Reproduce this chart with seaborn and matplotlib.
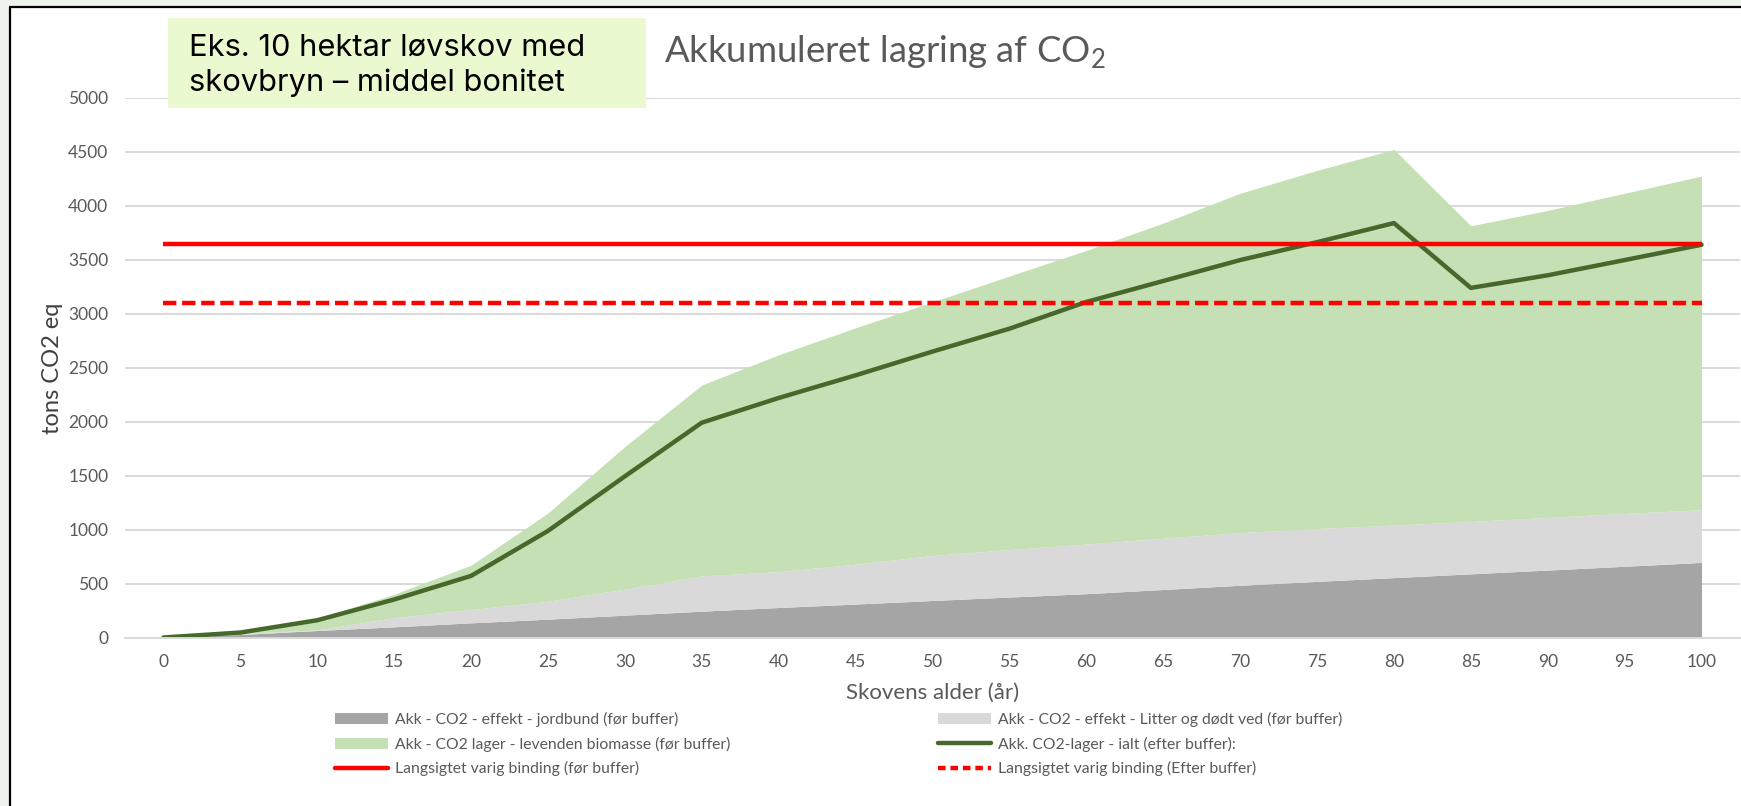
"""Akkumuleret lagring af CO2 - 10 hektar løvskov med skovbryn."""
import numpy as np
import matplotlib
matplotlib.use("Agg")
import matplotlib.pyplot as plt
from matplotlib.patches import Patch, Rectangle
from matplotlib.lines import Line2D
import seaborn as sns

# Skovens alder (år)
alder = [0, 5, 10, 15, 20, 25, 30, 35, 40, 45, 50,
         55, 60, 65, 70, 75, 80, 85, 90, 95, 100]

# Akk - CO2 - effekt - jordbund (før buffer)
jordbund = [0, 28, 65, 99, 136, 170, 207, 244, 278, 310, 343,
            375, 406, 445, 484, 520, 555, 590, 625, 660, 696]
# Akk - CO2 - effekt - Litter og dødt ved (før buffer)
litter = [0, 9, 5, 86, 123, 166, 241, 327, 332, 370, 417,
          440, 460, 475, 488, 490, 487, 485, 488, 490, 488]
# Akk - CO2 lager - levenden biomasse (før buffer)
biomasse = [0, 6, 106, 216, 411, 818, 1322, 1769, 2010, 2190, 2350,
            2535, 2721, 2921, 3145, 3319, 3481, 2741, 2845, 2967, 3092]
# Akk. CO2-lager - ialt (efter buffer)
ialt = [0, 46, 160, 352, 571, 988, 1494, 1991, 2220, 2430, 2650,
        2862, 3110, 3304, 3498, 3664, 3841, 3240, 3357, 3498, 3640]

# Langsigtet varig binding
varig_foer = 3650
varig_efter = 3100

legend_labels = [
    "Akk - CO2 - effekt - jordbund (før buffer)",
    "Akk - CO2 - effekt - Litter og dødt ved (før buffer)",
    "Akk - CO2 lager - levenden biomasse (før buffer)",
    "Akk. CO2-lager - ialt (efter buffer):",
    "Langsigtet varig binding (før buffer)",
    "Langsigtet varig binding (Efter buffer)",
]

c_jord = "#a5a5a5"
c_litter = "#d9d9d9"
c_bio = "#c5e0b4"
c_ialt = "#46692b"
c_red = "#ff0000"
c_text = "#595959"

sns.set_style("white")
plt.rcParams["font.family"] = ["Lato", "DejaVu Sans"]
plt.rcParams["mathtext.fontset"] = "custom"
plt.rcParams["mathtext.rm"] = "Lato"

W, H = 1741, 806
fig = plt.figure(figsize=(W / 100, H / 100), dpi=100, facecolor="#eef3ee")

# Slide frame: white panel with black top/left border.
fig.patches.append(Rectangle((10 / W, 0), 1, 1 - 7 / H, transform=fig.transFigure,
                             facecolor="white", edgecolor="none", zorder=-2))
fig.add_artist(Line2D([10 / W, 10 / W], [0, 1 - 7 / H], color="black", lw=1.6))
fig.add_artist(Line2D([10 / W, 1], [1 - 7 / H, 1 - 7 / H], color="black", lw=1.6))

ax = fig.add_axes([125 / W, 1 - 637.5 / H, (1740 - 125) / W, (637.5 - 98) / H])
ax.set_facecolor("none")

# Stacked areas.
ax.stackplot(alder, jordbund, litter, biomasse,
             colors=[c_jord, c_litter, c_bio], linewidth=0)

# Total line and long term binding.
sns.lineplot(x=alder, y=ialt, color=c_ialt, lw=3.2, ax=ax)
ax.plot(alder, [varig_foer] * len(alder), color=c_red, lw=3.2,
        solid_capstyle="butt")
ax.plot(alder, [varig_efter] * len(alder), color=c_red, lw=3.2,
        dashes=(3.0, 1.3), dash_capstyle="butt")

# Axes styling.
ax.set_xlim(-2.5, 102.5)
ax.set_ylim(0, 5000)
ax.set_yticks(np.arange(0, 5001, 500))
ax.set_xticks(alder)
ax.set_xticks(np.arange(-2.5, 103, 5), minor=True)
ax.set_axisbelow(True)
ax.yaxis.grid(True, color="#d9d9d9", lw=1.4)
for side in ["top", "right", "left"]:
    ax.spines[side].set_visible(False)
ax.spines["bottom"].set_color("#d9d9d9")
ax.spines["bottom"].set_linewidth(1.4)
ax.tick_params(axis="x", which="major", length=0, pad=12,
               labelsize=12.5, labelcolor=c_text)
ax.tick_params(axis="x", which="minor", length=5, width=1.4,
               color="#d9d9d9")
ax.tick_params(axis="y", length=0, pad=12, labelsize=12.5,
               labelcolor=c_text)

ax.set_xlabel("Skovens alder (år)", fontsize=16, color=c_text, labelpad=9)
ax.set_ylabel("tons CO2 eq", fontsize=17, color="#404040")
ax.yaxis.set_label_coords(-(125 - 63) / (1740 - 125), 0.4995)

# Title and info box.
fig.text(664 / W, 1 - 63 / H, r"Akkumuleret lagring af CO$_2$", fontsize=26.3,
         color=c_text, va="baseline", ha="left")
fig.patches.append(Rectangle((168 / W, 1 - 108 / H), (646 - 168) / W, 90 / H,
                             transform=fig.transFigure, facecolor="#ebf9d0",
                             edgecolor="none"))
fig.text(189 / W, 1 - 56 / H, "Eks. 10 hektar løvskov med", fontsize=22.2,
         family=["Inter", "DejaVu Sans"], color="black", va="baseline")
fig.text(189 / W, 1 - 91 / H, "skovbryn – middel bonitet", fontsize=22.2,
         family=["Inter", "DejaVu Sans"], color="black", va="baseline")

# Legend in two columns, row-major like the source.
handles = [
    Patch(facecolor=c_jord, edgecolor="none"),
    Patch(facecolor=c_litter, edgecolor="none"),
    Patch(facecolor=c_bio, edgecolor="none"),
    Line2D([], [], color=c_ialt, lw=3.2),
    Line2D([], [], color=c_red, lw=3.2),
    Line2D([], [], color=c_red, lw=3.2, dashes=(1.7, 1.1)),
]
leg_kw = dict(frameon=False, fontsize=11.3, labelcolor=c_text,
              handlelength=3.4, handletextpad=0.4, labelspacing=0.6,
              borderpad=0, borderaxespad=0, loc="upper left")
leg_left = fig.legend([handles[i] for i in (0, 2, 4)],
                      [legend_labels[i] for i in (0, 2, 4)],
                      bbox_to_anchor=(335 / W, 1 - 712 / H), **leg_kw)
leg_right = fig.legend([handles[i] for i in (1, 3, 5)],
                       [legend_labels[i] for i in (1, 3, 5)],
                       bbox_to_anchor=(938 / W, 1 - 712 / H), **leg_kw)

fig.savefig("out.png", dpi=100, facecolor=fig.get_facecolor())
